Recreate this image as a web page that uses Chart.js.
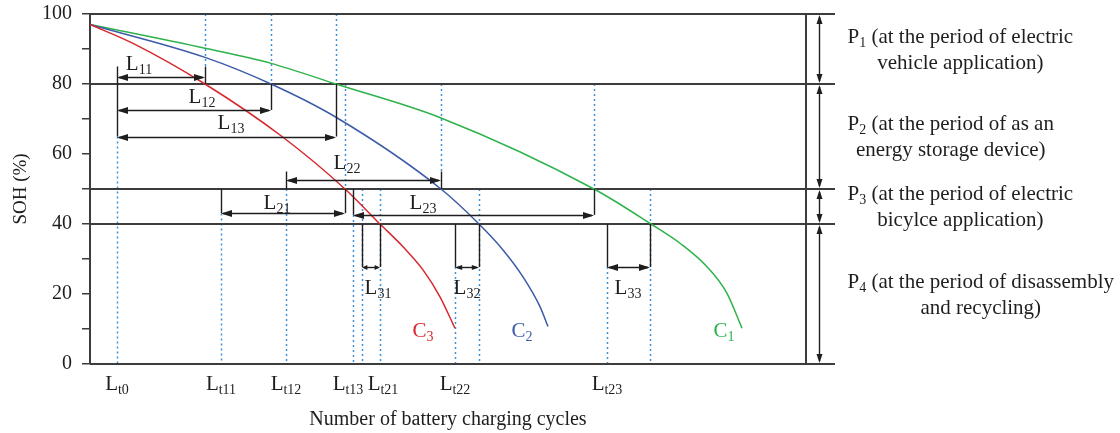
<!DOCTYPE html>
<html>
<head>
<meta charset="utf-8">
<script src="https://cdn.jsdelivr.net/npm/chart.js@4/dist/chart.umd.min.js"></script>
<style>
  html, body { margin: 0; padding: 0; background: #fff; }
  canvas { display: block; }
</style>
</head>
<body>
<canvas id="sohChart" width="1120" height="433"></canvas>
<script>
// SOH curves, x = charging cycles (relative units), y = SOH %
const c3Cycles = [0, 43, 115, 192, 255, 290, 313, 333, 350, 365];
const c3Soh = [97, 91.6, 80, 65, 50, 40, 33.5, 26.9, 19.2, 10.2];
const c2Cycles = [0, 115, 181, 246, 351, 389, 413, 433, 450, 458];
const c2Soh = [97, 87.6, 80, 70.5, 50, 40, 32.6, 24.9, 16.4, 10.7];
const c1Cycles = [0, 115, 181, 246, 351, 504, 561, 590, 617, 637, 652];
const c1Soh = [97, 90.2, 85.9, 80, 70.3, 50, 40, 34.5, 27.8, 20.2, 10.2];

// x axis marks
const tickCycles = [27, 131, 196, 263, 290, 365, 517];
const tickNames = ['t0', 't11', 't12', 't13', 't21', 't22', 't23'];

// period thresholds (SOH %)
const levels = [100, 80, 50, 40, 0];
const periodSubs = ['1', '2', '3', '4'];
const periodLine1 = [' (at the period of electric', ' (at the period of as an', ' (at the period of electric', ' (at the period of disassembly'];
const periodLine2 = ['vehicle application)', 'energy storage device)', 'bicylce application)', 'and recycling)'];

// dotted guide lines
const guideX = [27, 115, 181, 246, 131, 196, 255, 263, 272, 290, 351, 365, 389, 504, 517, 560];
const guideTop = [65, 100, 100, 100, 43, 50, 80, 42.6, 50, 50, 80, 27.7, 50, 80, 27.7, 50];
const guideBottom = [0, 85, 80, 80, 0, 0, 50, 0, 0, 0, 55, 0, 0, 50, 0, 0];

// dimension lines L11..L33
const dimSubs = ['11', '12', '13', '21', '22', '23', '31', '32', '33'];
const dimFrom = [27, 27, 27, 131, 196, 263, 272, 365, 517];
const dimTo = [115, 181, 246, 255, 351, 504, 290, 389, 560];
const dimSoh = [82, 72.6, 65, 43.1, 52.6, 42.6, 27.7, 27.7, 27.7];
const dimLabelX = [49, 112, 141, 187, 257, 333, 288, 377, 538];
const dimLabelSoh = [86.1, 76.6, 69.1, 46.3, 57.6, 46.3, 21.9, 21.9, 21.9];
const barX = [27, 115, 181, 246, 131, 255, 196, 351, 263, 504, 272, 290, 365, 389, 517, 560];
const barTop = [85, 85, 80, 80, 50, 50, 55, 55, 50, 50, 40, 40, 40, 40, 40, 40];
const barBottom = [65, 80, 72.6, 65, 43.1, 43.1, 50, 50, 42.6, 42.6, 27.7, 27.7, 27.7, 27.7, 27.7, 27.7];

// curve names
const curveSubs = ['3', '2', '1'];
const curveLabelX = [333, 432, 634];
const curveLabelSoh = [9.7, 9.7, 9.7];

const RED = '#d7282f';
const BLUE = '#3c5aa8';
const GREEN = '#2eb24b';
const DOT = '#3d8fd6';
const AXIS = '#3c3c3c';
const INK = '#1e1e1e';
const SERIF = "'Liberation Serif', 'Times New Roman', serif";
const extendTo = 745;
const periodArrowX = 729;

Chart.defaults.font.family = SERIF;
Chart.defaults.color = INK;

function pts(xs, ys) {
  return xs.map((x, i) => ({ x: x, y: ys[i] }));
}

function subText(ctx, main, sub, cx, cy, size, color) {
  const f1 = size + 'px ' + SERIF;
  const f2 = Math.round(size * 0.68) + 'px ' + SERIF;
  ctx.font = f1;
  const w1 = ctx.measureText(main).width;
  ctx.font = f2;
  const w2 = ctx.measureText(sub).width;
  const x0 = cx - (w1 + w2) / 2;
  const base = cy + size * 0.33;
  ctx.fillStyle = color;
  ctx.textAlign = 'left';
  ctx.textBaseline = 'alphabetic';
  ctx.font = f1;
  ctx.fillText(main, x0, base);
  ctx.font = f2;
  ctx.fillText(sub, x0 + w1, base + 4);
}

function head(ctx, x, y, dx, dy, len, half) {
  ctx.beginPath();
  ctx.moveTo(x, y);
  ctx.lineTo(x - dx * len - dy * half, y - dy * len + dx * half);
  ctx.lineTo(x - dx * len + dy * half, y - dy * len - dx * half);
  ctx.closePath();
  ctx.fill();
}

function vline(ctx, x, y1, y2) {
  ctx.beginPath();
  ctx.moveTo(x, y1);
  ctx.lineTo(x, y2);
  ctx.stroke();
}

const schemePlugin = {
  id: 'scheme',
  beforeDatasetsDraw(chart) {
    const ctx = chart.ctx;
    const xs = chart.scales.x, ys = chart.scales.y;
    ctx.save();
    // dotted guides
    ctx.strokeStyle = DOT;
    ctx.lineWidth = 1.5;
    ctx.setLineDash([2, 3]);
    guideX.forEach((g, i) => {
      const x = Math.round(xs.getPixelForValue(g)) + 0.5;
      vline(ctx, x, ys.getPixelForValue(guideTop[i]), ys.getPixelForValue(guideBottom[i]));
    });
    ctx.setLineDash([]);
    // threshold lines
    ctx.strokeStyle = AXIS;
    ctx.lineWidth = 2;
    levels.forEach(v => {
      const y = Math.round(ys.getPixelForValue(v));
      ctx.beginPath();
      ctx.moveTo(xs.getPixelForValue(0), y);
      ctx.lineTo(xs.getPixelForValue(extendTo), y);
      ctx.stroke();
    });
    vline(ctx, Math.round(xs.getPixelForValue(xs.max)), ys.getPixelForValue(100), ys.getPixelForValue(0) + 1);
    ctx.restore();
  },
  afterDatasetsDraw(chart) {
    const ctx = chart.ctx;
    const xs = chart.scales.x, ys = chart.scales.y;
    ctx.save();
    ctx.strokeStyle = INK;
    ctx.fillStyle = INK;
    ctx.lineWidth = 1.4;
    // extension bars
    barX.forEach((b, i) => {
      const x = Math.round(xs.getPixelForValue(b)) + 0.5;
      vline(ctx, x, ys.getPixelForValue(barTop[i]), ys.getPixelForValue(barBottom[i]));
    });
    // dimension arrows
    dimSubs.forEach((s, i) => {
      const x1 = xs.getPixelForValue(dimFrom[i]);
      const x2 = xs.getPixelForValue(dimTo[i]);
      const y = Math.round(ys.getPixelForValue(dimSoh[i])) + 0.5;
      const len = Math.min(11, (x2 - x1) * 0.3);
      ctx.beginPath();
      ctx.moveTo(x1 + 2, y);
      ctx.lineTo(x2 - 2, y);
      ctx.stroke();
      head(ctx, x1, y, -1, 0, len, len > 8 ? 3.5 : 2.5);
      head(ctx, x2, y, 1, 0, len, len > 8 ? 3.5 : 2.5);
      subText(ctx, 'L', s, xs.getPixelForValue(dimLabelX[i]), ys.getPixelForValue(dimLabelSoh[i]), 21, INK);
    });
    // curve names
    const colors = [RED, BLUE, GREEN];
    curveSubs.forEach((s, i) => {
      subText(ctx, 'C', s, xs.getPixelForValue(curveLabelX[i]), ys.getPixelForValue(curveLabelSoh[i]), 21, colors[i]);
    });
    // x axis names
    const nudge = { t13: -5, t21: 3 };
    tickNames.forEach((n, i) => {
      const x = xs.getPixelForValue(tickCycles[i]) + (nudge[n] || 0);
      subText(ctx, 'L', n, x, chart.chartArea.bottom + 19, 21, INK);
    });
    // period arrows and texts
    const ax = Math.round(xs.getPixelForValue(periodArrowX)) + 0.5;
    ctx.lineWidth = 1.4;
    for (let i = 0; i < levels.length - 1; i++) {
      const yA = ys.getPixelForValue(levels[i]);
      const yB = ys.getPixelForValue(levels[i + 1]);
      vline(ctx, ax, yA + 3, yB - 3);
      head(ctx, ax, yA + 1, 0, -1, 9, 3);
      head(ctx, ax, yB - 1, 0, 1, 9, 3);

      const size = 21;
      const f1 = size + 'px ' + SERIF;
      const f2 = Math.round(size * 0.68) + 'px ' + SERIF;
      ctx.font = f1;
      const wP = ctx.measureText('P').width;
      const wRest = ctx.measureText(periodLine1[i]).width;
      const w2 = ctx.measureText(periodLine2[i]).width;
      ctx.font = f2;
      const wS = ctx.measureText(periodSubs[i]).width;
      const w1 = wP + wS + wRest;
      const left = ax + 28;
      const cx = left + Math.max(w1, w2) / 2;
      const cy = (yA + yB) / 2;
      const base1 = cy - 13 + size * 0.33;
      const base2 = cy + 13 + size * 0.33;
      ctx.fillStyle = INK;
      ctx.textBaseline = 'alphabetic';
      ctx.textAlign = 'left';
      const x0 = cx - w1 / 2;
      ctx.font = f1;
      ctx.fillText('P', x0, base1);
      ctx.fillText(periodLine1[i], x0 + wP + wS, base1);
      ctx.font = f2;
      ctx.fillText(periodSubs[i], x0 + wP, base1 + 4);
      ctx.font = f1;
      ctx.textAlign = 'center';
      ctx.fillText(periodLine2[i], cx, base2);
    }
    ctx.restore();
  }
};

const ctx = document.getElementById('sohChart').getContext('2d');
const curveStyle = { pointRadius: 0, borderWidth: 1.5, fill: false, cubicInterpolationMode: 'monotone' };

new Chart(ctx, {
  type: 'line',
  data: {
    datasets: [
      Object.assign({ label: 'C3', data: pts(c3Cycles, c3Soh), borderColor: RED }, curveStyle),
      Object.assign({ label: 'C2', data: pts(c2Cycles, c2Soh), borderColor: BLUE }, curveStyle),
      Object.assign({ label: 'C1', data: pts(c1Cycles, c1Soh), borderColor: GREEN }, curveStyle)
    ]
  },
  options: {
    responsive: false,
    animation: false,
    layout: { padding: { top: 14, right: 314, bottom: 0, left: 0 } },
    plugins: { legend: { display: false }, tooltip: { enabled: false } },
    scales: {
      x: {
        type: 'linear',
        min: 0,
        max: 716,
        grid: { display: false },
        border: { display: false },
        ticks: { display: false },
        title: { display: true, text: 'Number of battery charging cycles', font: { size: 20 }, color: INK, padding: { top: 0, bottom: 1 } },
        afterFit: s => { s.height = 69; }
      },
      y: {
        min: 0,
        max: 100,
        ticks: {
          stepSize: 10,
          padding: 10,
          color: INK,
          font: { size: 20 },
          callback: v => (v % 20 === 0 ? v : '')
        },
        grid: { drawOnChartArea: false, drawTicks: true, tickLength: 8, color: AXIS, lineWidth: 1.5 },
        border: { display: true, color: AXIS, width: 2 },
        title: { display: true, text: 'SOH (%)', font: { size: 19 }, color: INK, padding: { top: 10, bottom: 0 } },
        afterFit: s => { s.width = 90; s.paddingTop = 0; s.paddingBottom = 0; }
      }
    }
  },
  plugins: [schemePlugin]
});
</script>
</body>
</html>
